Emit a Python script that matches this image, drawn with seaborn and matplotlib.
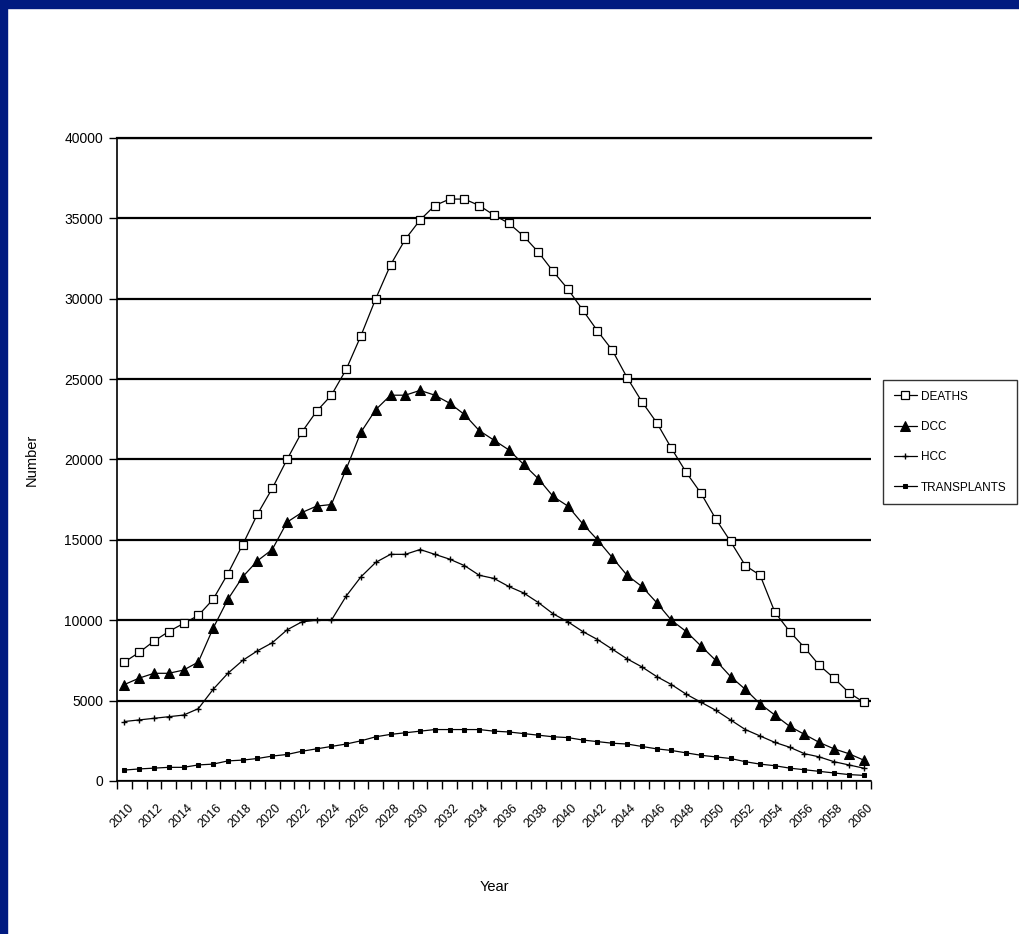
import numpy as np
import pandas as pd
import matplotlib
matplotlib.use("Agg")
import matplotlib.pyplot as plt
import seaborn as sns
from matplotlib.patches import Rectangle

years = list(range(2010, 2061))
deaths = [7400, 8000, 8700, 9300, 9800, 10300, 11300, 12900, 14700, 16600,
          18200, 20000, 21700, 23000, 24000, 25600, 27700, 30000, 32100, 33700,
          34900, 35800, 36200, 36200, 35800, 35200, 34700, 33900, 32900, 31700,
          30600, 29300, 28000, 26800, 25100, 23600, 22300, 20700, 19200, 17900,
          16300, 14900, 13400, 12800, 10500, 9300, 8300, 7200, 6400, 5500, 4900]
dcc = [6000, 6400, 6700, 6700, 6900, 7400, 9500, 11300, 12700, 13700,
       14400, 16100, 16700, 17100, 17200, 19400, 21700, 23100, 24000, 24000,
       24300, 24000, 23500, 22800, 21800, 21200, 20600, 19700, 18800, 17700,
       17100, 16000, 15000, 13900, 12800, 12100, 11100, 10000, 9300, 8400,
       7500, 6500, 5700, 4800, 4100, 3400, 2900, 2400, 2000, 1700, 1300]
hcc = [3700, 3800, 3900, 4000, 4100, 4500, 5700, 6700, 7500, 8100,
       8600, 9400, 9900, 10000, 10000, 11500, 12700, 13600, 14100, 14100,
       14400, 14100, 13800, 13400, 12800, 12600, 12100, 11700, 11100, 10400,
       9900, 9300, 8800, 8200, 7600, 7100, 6500, 6000, 5400, 4900,
       4400, 3800, 3200, 2800, 2400, 2100, 1700, 1500, 1200, 1000, 800]
transplants = [680, 750, 800, 850, 850, 1000, 1050, 1250, 1300, 1400,
               1550, 1650, 1850, 2000, 2150, 2300, 2500, 2750, 2900, 3000,
               3100, 3200, 3200, 3200, 3200, 3100, 3050, 2950, 2850, 2750,
               2700, 2550, 2450, 2350, 2300, 2150, 2000, 1900, 1750, 1600,
               1500, 1400, 1200, 1050, 950, 800, 700, 600, 500, 400, 350]

sns.set_theme(style="white")
plt.rcParams['font.family'] = ['Liberation Sans', 'DejaVu Sans']
plt.rcParams['text.color'] = 'black'
plt.rcParams['axes.labelcolor'] = 'black'
plt.rcParams['xtick.color'] = 'black'
plt.rcParams['ytick.color'] = 'black'

fig = plt.figure(figsize=(10.19, 9.34), dpi=100)
fig.patch.set_facecolor("white")
# dark blue slide frame
fig.patches.append(Rectangle((0, 1 - 8 / 934), 1, 8 / 934, transform=fig.transFigure,
                             color="#001a80", zorder=0))
fig.patches.append(Rectangle((0, 0), 7 / 1019, 1, transform=fig.transFigure,
                             color="#001a80", zorder=0))

ax = fig.add_axes([117 / 1019, 1 - 781 / 934, (871 - 117) / 1019, (781 - 138) / 934])

pos = np.arange(len(years))
df = pd.DataFrame({"pos": pos, "DEATHS": deaths, "DCC": dcc, "HCC": hcc,
                   "TRANSPLANTS": transplants})

styles = {
    "DEATHS": dict(marker="s", markersize=5.5, markerfacecolor="white", markeredgecolor="black",
                   markeredgewidth=0.9),
    "DCC": dict(marker="^", markersize=6.5, markerfacecolor="black", markeredgecolor="black"),
    "HCC": dict(marker="+", markersize=5, markeredgecolor="black", markeredgewidth=1),
    "TRANSPLANTS": dict(marker="s", markersize=3, markerfacecolor="black", markeredgecolor="black"),
}
for name, st in styles.items():
    sns.lineplot(data=df, x="pos", y=name, ax=ax, color="black", linewidth=0.9,
                 label=name, **st)

ax.set_xlim(-0.5, len(years) - 0.5)
ax.set_ylim(0, 40000)
ax.set_yticks(range(0, 40001, 5000))
ax.yaxis.grid(True, color="black", linewidth=1.6)
ax.set_axisbelow(True)
ax.spines["right"].set_visible(False)
ax.spines["top"].set_color("black")
ax.spines["top"].set_linewidth(1.6)
for s in ["left", "bottom"]:
    ax.spines[s].set_color("black")
    ax.spines[s].set_linewidth(1.2)

# ticks between categories, labels on every other year
ax.set_xticks(np.arange(-0.5, len(years), 1))
ax.set_xticklabels([])
ax.set_xticks(pos[::2] + 0.2, minor=True)
ax.set_xticklabels([str(y) for y in years[::2]], minor=True, rotation=45,
                   ha="right", rotation_mode="anchor", fontsize=9)
ax.tick_params(axis="x", which="major", direction="out", length=6, width=1, color="black",
               bottom=True)
ax.tick_params(axis="x", which="minor", length=0, pad=15)
ax.tick_params(axis="y", direction="out", length=6, width=1, color="black", left=True,
               labelsize=10, pad=4)

ax.set_xlabel("Year", fontsize=10.5, labelpad=36)
ax.set_ylabel("Number", fontsize=10.5, labelpad=18)

ax.get_legend().remove()
handles, labels = ax.get_legend_handles_labels()
leg = fig.legend(handles, labels, loc="upper left", bbox_to_anchor=(883 / 1019, 1 - 380 / 934),
                 frameon=True, fancybox=False, edgecolor="black", fontsize=8.5,
                 handlelength=2.0, handletextpad=0.3, labelspacing=1.55, borderpad=0.9,
                 borderaxespad=0)
leg.get_frame().set_linewidth(1)

fig.savefig("out.png", dpi=100)
